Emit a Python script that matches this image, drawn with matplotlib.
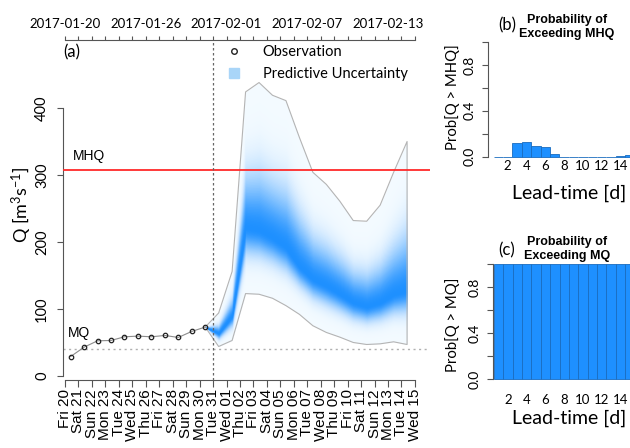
import matplotlib
matplotlib.use("Agg")
import matplotlib.pyplot as plt, numpy as np, pandas as pd
import matplotlib.dates as mdates
import matplotlib.colors as mcolors
from matplotlib.lines import Line2D
from matplotlib.patches import Patch

plt.rcParams['font.family'] = ['Lato', 'DejaVu Sans']
plt.rcParams['mathtext.fontset'] = 'custom'
plt.rcParams['mathtext.rm'] = 'Lato'
plt.rcParams['mathtext.it'] = 'Lato:italic'

# observed daily discharge [m3/s]
obs_start = "2017-01-20 10:00"
obs_q = [29, 43, 52.5, 53, 58.5, 59.5, 58.5, 60.5, 57.5, 66.5, 73]

# ensemble forecast (first value = last observation), median and envelope
fc_start = "2017-01-30 10:00"
fc_med = [73, 64, 90, 222, 218, 207, 193, 164, 145, 135, 123, 110, 104, 110, 122, 128]
fc_lo = [73, 44, 53, 123, 122, 116, 105, 92, 75, 65, 58, 50, 47, 48, 51, 47]
fc_hi = [73, 94, 156, 424, 438, 419, 411, 356, 304, 286, 261, 232, 231, 255, 304, 350]
issue_date = "2017-01-31"

mhq = 308
mq = 40.5

# exceedance probabilities per lead time
lead_days = list(range(1, 16))
p_mhq = [0, 0, 0.117, 0.13, 0.093, 0.082, 0.026, 0, 0, 0, 0, 0, 0, 0.009, 0.018]
p_mq = [1.0] * 15

axis_start, axis_end = "2017-01-20", "2017-02-15"
top_dates = ["2017-01-20", "2017-01-26", "2017-02-01", "2017-02-07", "2017-02-13"]

W, H = 630, 448
SANS = ['Liberation Sans', 'DejaVu Sans']


def box(l, t, r, b):
    return [l / W, 1 - b / H, (r - l) / W, (b - t) / H]


fig = plt.figure(figsize=(W / 100, H / 100), dpi=100)

# ---- (a) hydrograph ----
ax = fig.add_axes(box(63, 40, 430, 380))
t0 = pd.Timestamp(axis_start)
days = pd.date_range(axis_start, axis_end, freq="D")
x_obs = pd.date_range(obs_start, periods=len(obs_q), freq="D")
x_fc = pd.date_range(fc_start, periods=len(fc_med), freq="D")
med, lo, hi = map(np.asarray, (fc_med, fc_lo, fc_hi))

# shaded predictive density: nested bands, darkest around the median
pale = np.array(mcolors.to_rgb('#f3faff'))
blue = np.array(mcolors.to_rgb('#1e90ff'))
for f in np.linspace(1, 0.01, 90):
    w = np.exp(-0.5 * (f / 0.25) ** 2)
    ax.fill_between(x_fc, med - f * (med - lo), med + f * (hi - med),
                    color=pale * (1 - w) + blue * w, lw=0, zorder=1)
ax.fill_between(x_fc, lo, hi, facecolor='none', edgecolor='#b4b4b4', lw=0.8, zorder=2)

ax.plot(x_obs, obs_q, color='#8c8c8c', lw=0.8, zorder=3)
ax.plot(x_obs, obs_q, 'o', ms=3.2, mfc='none', mec='#222222', mew=0.9, zorder=4)

ax.axhline(mhq, color='#ff2a2a', lw=1.3, zorder=5)
ax.axhline(mq, color='#b0b0b0', lw=1.0, ls=(0, (1.5, 2.5)), zorder=2)
ax.axvline(pd.Timestamp(issue_date), color='#666666', lw=0.9, ls=(0, (2, 2)), zorder=5)

ax.annotate('MHQ', xy=(0, mhq), xycoords=ax.get_yaxis_transform(), xytext=(7, 5),
            textcoords='offset points', va='bottom', family=SANS, fontsize=10)
ax.annotate('MQ', xy=(0, mq), xycoords=ax.get_yaxis_transform(), xytext=(3.5, 6.5),
            textcoords='offset points', va='bottom', family=SANS, fontsize=10)

ax.set_xlim(t0 - pd.Timedelta(days=0.149), t0 + pd.Timedelta(days=27.12))
ax.set_ylim(-6, 501.5)
yt = [0, 100, 200, 300, 400]
ax.set_yticks(yt, labels=[str(v) for v in yt], rotation=90, va='center')
ax.tick_params(axis='y', length=4, width=0.8, pad=6, labelsize=10.5, color='#555555')
ax.set_xticks(days, labels=[d.strftime('%a %d') for d in days], rotation=90,
              family=SANS, fontsize=11)
ax.tick_params(axis='x', length=5, width=0.8, pad=1.5, color='#555555')
for s in ('top', 'right'):
    ax.spines[s].set_visible(False)
ax.spines['left'].set_bounds(0, 400)
ax.spines['bottom'].set_bounds(mdates.date2num(days[0]), mdates.date2num(days[-1]))
for s in ('left', 'bottom'):
    ax.spines[s].set_color('#555555')
    ax.spines[s].set_linewidth(0.8)

top = ax.secondary_xaxis('top')
top.set_xticks(mdates.date2num(pd.to_datetime(top_dates)), labels=top_dates)
top.set_xticks(mdates.date2num(days), minor=True)
top.tick_params(which='both', length=3, width=0.8, pad=4, labelsize=9.5, color='#555555')
top.spines['top'].set_bounds(mdates.date2num(days[0]), mdates.date2num(days[-1]))
top.spines['top'].set_color('#555555')
top.spines['top'].set_linewidth(0.8)

fig.text(22 / W, 1 - 205 / H, r'Q [m$^{3}$s$^{-1}$]', rotation=90, ha='center', va='center',
         fontsize=13)
fig.text(63 / W, 1 - 52 / H, '(a)', va='center', fontsize=12)

handles = [Line2D([], [], marker='o', ls='none', mfc='none', mec='#222222', ms=4, mew=1),
           Patch(color='#a9d5f8')]
ax.legend(handles, ['Observation', 'Predictive Uncertainty'], loc='upper left',
          bbox_to_anchor=(229 / W, 1 - 45 / H), bbox_transform=fig.transFigure,
          frameon=False, fontsize=10.5, handlelength=0.7, handletextpad=1.6,
          labelspacing=0.55, borderpad=0, borderaxespad=0)


# ---- (b), (c) exceedance probabilities ----
def prob_panel(rect, xmin, probs, tag, title2, ylab, tag_y, title_y, ylab_y, xlab_y, xpad):
    a = fig.add_axes(rect)
    a.bar(lead_days, probs, width=1, color='#1e90ff', edgecolor='#1a6cbf', lw=0.6)
    a.set_xlim(xmin, 15.6)
    a.set_ylim(-0.03, 1.0)
    a.set_yticks([0, 0.2, 0.4, 0.6, 0.8, 1.0], labels=['0.0', '', '0.4', '', '0.8', ''],
                 rotation=90, va='center')
    a.set_xticks(range(2, 15, 2))
    a.tick_params(axis='y', length=4, width=0.8, pad=5, labelsize=10, color='#555555')
    a.tick_params(axis='x', length=0, pad=xpad, labelsize=9.5)
    for s in ('top', 'right', 'bottom'):
        a.spines[s].set_visible(False)
    a.spines['left'].set_bounds(0, 1)
    a.spines['left'].set_color('#555555')
    a.spines['left'].set_linewidth(0.8)
    fig.text(498 / W, 1 - tag_y / H, tag, va='center', fontsize=12)
    fig.text(567 / W, 1 - title_y / H, 'Probability of', ha='center', va='center',
             family=SANS, weight='bold', fontsize=9)
    fig.text(567 / W, 1 - (title_y + 14) / H, title2, ha='center', va='center',
             family=SANS, weight='bold', fontsize=9)
    fig.text(453 / W, 1 - ylab_y / H, ylab, rotation=90, ha='center', va='center',
             fontsize=10.7)
    fig.text(569 / W, 1 - xlab_y / H, 'Lead-time [d]', ha='center', va='center', fontsize=14)
    return a


prob_panel(box(488, 42, 635.6, 160.1), -0.1, p_mhq, '(b)', 'Exceeding MHQ',
           'Prob[Q > MHQ]', 25, 20, 97, 193, 0)
prob_panel(box(492.8, 264.3, 635.6, 382.8), 0.4, p_mq, '(c)', 'Exceeding MQ',
           'Prob[Q > MQ]', 250, 242, 325, 418, 8)

fig.savefig("out.png", dpi=100)
